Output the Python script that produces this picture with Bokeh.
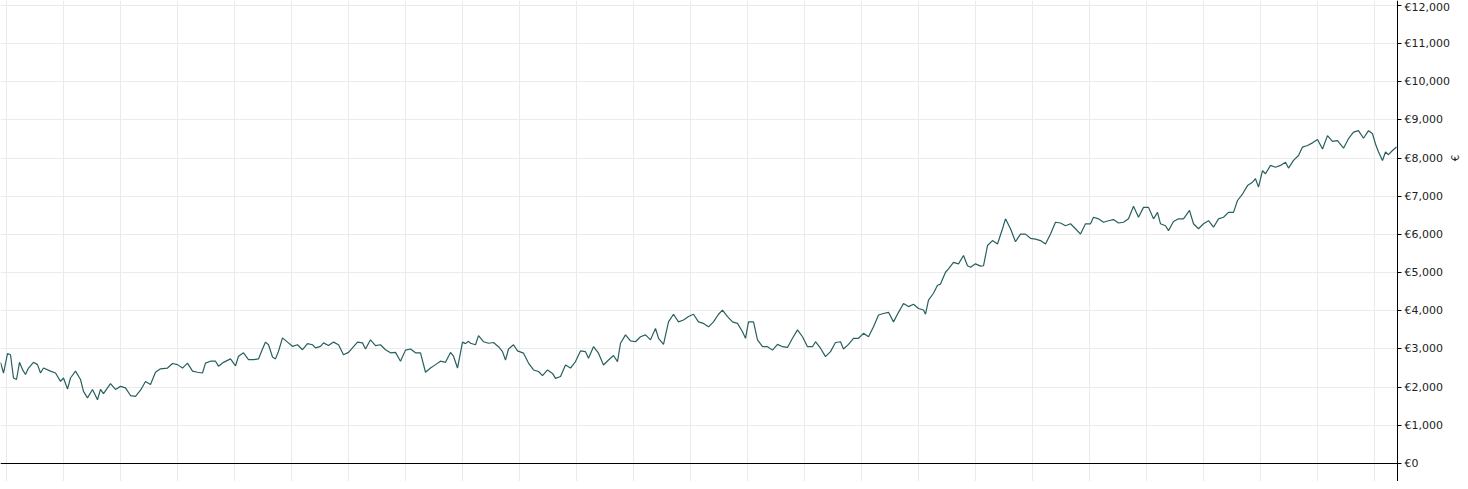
import math
from bokeh.plotting import figure
from bokeh.models import (Range1d, SingleIntervalTicker, FixedTicker, CustomJSTickFormatter,
                          Label, BoxAnnotation)
from bokeh.embed import file_html
from bokeh.resources import INLINE

# trading-day index of each sampled point
days = [51, 54, 58, 61, 64, 67, 70, 73, 76, 79, 84, 88, 91, 94, 101, 106, 111, 114, 118, 121,
        126, 131, 134, 138, 143, 148, 151, 154, 161, 166, 171, 176, 181, 186, 191, 196, 201, 206,
        211, 218, 223, 228, 233, 238, 243, 248, 253, 256, 261, 266, 269, 274, 281, 286, 289, 294,
        299, 304, 309, 313, 316, 319, 323, 326, 329, 333, 338, 343, 348, 353, 358, 363, 366, 371,
        374, 379, 384, 389, 394, 399, 403, 408, 413, 416, 421, 426, 431, 436, 441, 446, 451, 456,
        461, 466, 471, 476, 481, 486, 491, 496, 501, 504, 508, 513, 516, 519, 521, 526, 529, 534,
        539, 544, 549, 553, 556, 559, 564, 568, 574, 579, 584, 589, 593, 598, 603, 606, 611, 616,
        621, 626, 631, 636, 639, 644, 649, 654, 659, 664, 668, 671, 676, 681, 686, 691, 696, 701,
        706, 709, 714, 719, 724, 729, 734, 739, 744, 749, 754, 759, 764, 769, 773, 778, 783, 788,
        793, 796, 799, 804, 808, 813, 818, 823, 828, 833, 838, 843, 848, 853, 858, 863, 866, 871,
        876, 881, 886, 891, 894, 899, 904, 909, 914, 919, 924, 929, 934, 939, 944, 949, 954, 959,
        964, 969, 974, 976, 979, 984, 988, 991, 996, 999, 1004, 1009, 1014, 1018, 1021, 1026, 1031,
        1034, 1038, 1043, 1048, 1053, 1056, 1061, 1066, 1071, 1076, 1081, 1086, 1091, 1096, 1101,
        1106, 1111, 1116, 1121, 1126, 1131, 1136, 1141, 1144, 1149, 1154, 1159, 1164, 1169, 1174,
        1179, 1184, 1189, 1194, 1199, 1204, 1208, 1211, 1216, 1219, 1224, 1229, 1234, 1240, 1244,
        1249, 1254, 1259, 1264, 1269, 1274, 1279, 1284, 1288, 1293, 1298, 1303, 1306, 1309, 1313,
        1316, 1321, 1326, 1331, 1336, 1339, 1344, 1349, 1353, 1358, 1363, 1368, 1373, 1378, 1383,
        1388, 1394, 1399, 1404, 1409, 1414, 1419, 1423, 1426, 1429, 1433, 1436, 1439, 1443, 1447]

# portfolio value in euros
values = [2650, 2370, 2880, 2850, 2240, 2200, 2650, 2460, 2330, 2500, 2650, 2590, 2370, 2500, 2420,
          2370, 2150, 2240, 1950, 2240, 2420, 2200, 1890, 1720, 1940, 1670, 1940, 1830, 2090, 1940,
          2020, 1980, 1780, 1760, 1920, 2150, 2070, 2390, 2480, 2500, 2620, 2590, 2500, 2630, 2420,
          2390, 2370, 2630, 2680, 2680, 2550, 2650, 2740, 2560, 2810, 2900, 2720, 2720, 2740, 3000,
          3180, 3110, 2790, 2740, 2940, 3290, 3180, 3070, 3110, 2980, 3140, 3110, 3030, 3070, 3160,
          3090, 3180, 3110, 2850, 2910, 3030, 3180, 3160, 3000, 3240, 3090, 3110, 2980, 2900, 2910,
          2680, 2970, 3000, 2900, 2900, 2390, 2500, 2590, 2680, 2650, 2910, 2810, 2500, 3180, 3140,
          3200, 3150, 3110, 3350, 3190, 3150, 3170, 3060, 2930, 2710, 3000, 3110, 2950, 2890, 2630,
          2450, 2410, 2300, 2450, 2360, 2230, 2280, 2580, 2500, 2670, 2950, 2930, 2760, 3060, 2890,
          2580, 2710, 2830, 2670, 3150, 3370, 3210, 3190, 3320, 3370, 3240, 3540, 3280, 3120, 3710,
          3910, 3710, 3760, 3850, 3910, 3710, 3670, 3580, 3710, 3910, 4020, 3850, 3710, 3670, 3450,
          3280, 3710, 3710, 3240, 3060, 3060, 2970, 3120, 3060, 3040, 3280, 3500, 3320, 3060, 3060,
          3190, 3020, 2800, 2930, 3170, 3190, 3000, 3120, 3280, 3280, 3410, 3320, 3580, 3890, 3930,
          3960, 3710, 3960, 4190, 4110, 4170, 4060, 4020, 3910, 4280, 4460, 4670, 4700, 5010, 5100,
          5270, 5230, 5450, 5180, 5140, 5230, 5170, 5180, 5710, 5840, 5750, 6150, 6410, 6150, 5810,
          6010, 6010, 5900, 5880, 5840, 5750, 6010, 6320, 6300, 6230, 6280, 6150, 6010, 6280, 6280,
          6450, 6410, 6320, 6360, 6390, 6300, 6320, 6410, 6740, 6450, 6710, 6710, 6410, 6580, 6280,
          6230, 6100, 6340, 6410, 6410, 6630, 6280, 6150, 6280, 6360, 6190, 6410, 6450, 6580, 6580,
          6890, 7060, 7280, 7370, 7460, 7240, 7670, 7590, 7810, 7760, 7810, 7890, 7740, 7940, 8070,
          8290, 8330, 8400, 8490, 8240, 8590, 8440, 8460, 8260, 8510, 8680, 8720, 8520, 8720, 8640,
          8370, 8160, 7940, 8160, 8090, 8200, 8290]

y_ticks = [0, 1000, 2000, 3000, 4000, 5000, 6000, 7000, 8000, 9000, 10000, 11000, 12000]
axis_title = "€"

X_START, X_END = 51, 1448          # data span (last day sits on the value axis)
X_VIEW_END = 1511                  # extra room to the right for the axis labels
Y_LO, Y_HI = -472, 12130

p = figure(width=1460, height=481, output_backend="svg", toolbar_location=None,
           x_range=Range1d(X_START, X_VIEW_END), y_range=Range1d(Y_LO, Y_HI),
           y_axis_location="right", x_axis_location="below",
           min_border_left=0, min_border_top=0, min_border_bottom=0, min_border_right=0)
p.outline_line_color = None
p.background_fill_color = "white"
p.border_fill_color = "white"

# x axis: just the black baseline at €0, no ticks/labels
xa = p.xaxis[0]
xa.fixed_location = 0
xa.bounds = (X_START, X_END)
xa.ticker = FixedTicker(ticks=[])
xa.axis_line_color = "black"
xa.axis_line_width = 1
xa.major_tick_line_color = None
xa.minor_tick_line_color = None

p.xgrid.ticker = SingleIntervalTicker(interval=57)
p.xgrid.grid_line_color = "#ebebeb"
p.ygrid.grid_line_color = "#ebebeb"

# value axis at the right end of the data
ya = p.yaxis[0]
ya.fixed_location = X_END
ya.ticker = FixedTicker(ticks=y_ticks)
p.ygrid.ticker = FixedTicker(ticks=y_ticks)
ya.formatter = CustomJSTickFormatter(code="return '\u20ac' + Math.round(tick).toLocaleString('en-US');")
ya.axis_line_color = "black"
ya.major_tick_line_color = "black"
ya.major_tick_out = 4
ya.major_tick_in = 0
ya.minor_tick_line_color = None
ya.minor_tick_out = 0
ya.major_label_standoff = 3
ya.major_label_text_font = "DejaVu Sans"
ya.major_label_text_font_size = "11px"
ya.major_label_text_color = "#222222"

try:
    p.ygrid.cross_bounds = (X_START, X_END)
except Exception:
    p.add_layout(BoxAnnotation(left=X_END, fill_color="white", fill_alpha=1.0,
                               line_color=None, level="underlay"))

p.line(days, values, line_color="#27605f", line_width=1.2)

p.add_layout(Label(x=1506, y=8000, text=axis_title, angle=math.pi / 2,
                   text_align="center", text_baseline="middle",
                   text_font="DejaVu Sans", text_font_size="10px", text_color="#222222"))

open("out.html", "w").write(file_html(p, INLINE))
